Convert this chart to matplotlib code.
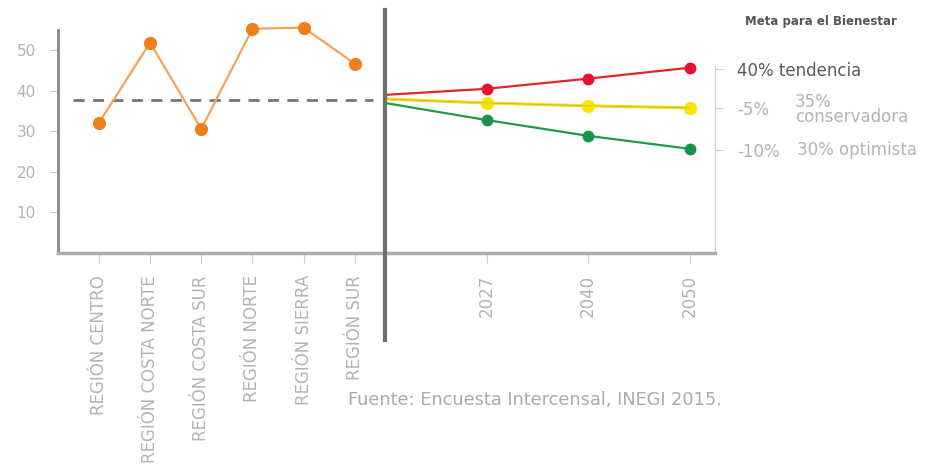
import matplotlib.pyplot as plt
import matplotlib.transforms as mtransforms

# datos
regiones = ["REGIÓN CENTRO", "REGIÓN COSTA NORTE", "REGIÓN COSTA SUR",
            "REGIÓN NORTE", "REGIÓN SIERRA", "REGIÓN SUR"]
pobreza = [32.1, 51.9, 30.6, 55.3, 55.6, 46.7]
promedio = 37.8

anios = ["", "2027", "2040", "2050"]
tendencia = [39.0, 40.5, 43.0, 45.7]
conservadora = [38.0, 37.0, 36.3, 35.8]
optimista = [37.0, 32.8, 28.9, 25.7]

gris = "#b3b3b3"

fig = plt.figure(figsize=(9.34, 4.74), dpi=100)
ax = fig.add_axes([0.0621, 0.4662, 0.350, 0.4705])
ax2 = fig.add_axes([0.4122, 0.4662, 0.3533, 0.4705])

# --- izquierda: regiones ---
x = range(len(regiones))
ax.plot(x, pobreza, color="#f4a35a", lw=1.6, zorder=3, clip_on=False)
ax.plot(x, pobreza, "o", color="#ee801c", ms=8.5, zorder=4, clip_on=False)
ax.hlines(promedio, -0.51, 5.35, colors="#777777", linestyles=(0, (4, 3)), lw=2)

ax.set_xlim(-0.80, 5.59)
ax.set_ylim(0, 55)
ax.set_yticks([10, 20, 30, 40, 50])
ax.set_xticks(list(x))
ax.set_xticklabels(regiones, rotation=90, va="top")
ax.tick_params(axis="y", colors="#cccccc", labelcolor=gris, labelsize=11,
               length=6, pad=10)
ax.tick_params(axis="x", colors="#cccccc", labelcolor=gris, labelsize=12,
               length=7, pad=9)
for s in ["top", "right"]:
    ax.spines[s].set_visible(False)
ax.spines["left"].set_color("#888888")
ax.spines["left"].set_linewidth(2)
ax.spines["bottom"].set_color("#acacac")
ax.spines["bottom"].set_linewidth(2.5)

# --- derecha: escenarios ---
xp = range(len(anios))
ax2.plot(xp, tendencia, "-o", color="#e3262e", mfc="#e8102a", mec="#e8102a",
         lw=1.6, ms=7.5, markevery=[1, 2, 3], clip_on=False)
ax2.plot(xp, conservadora, "-o", color="#f2df12", mfc="#fce300", mec="#fce300",
         lw=2.2, ms=8.5, markevery=[1, 2, 3], clip_on=False)
ax2.plot(xp, conservadora, "-", color="#9a9a40", lw=0.5, alpha=0.6)
ax2.plot(xp, optimista, "-o", color="#1f9a4b", mfc="#169447", mec="#169447",
         lw=1.6, ms=7.5, markevery=[1, 2, 3], clip_on=False)

ax2.set_xlim(0, 3.25)
ax2.set_ylim(0, 55)
ax2.set_xticks([1, 2, 3])
ax2.set_xticklabels(anios[1:], rotation=90, va="top")
ax2.tick_params(axis="x", colors="#cccccc", labelcolor=gris, labelsize=12,
                length=7, pad=9)
ax2.yaxis.tick_right()
ax2.set_yticks([tendencia[-1] - 0.4, conservadora[-1], optimista[-1] - 0.2])
ax2.set_yticklabels(["40% tendencia", "-5%", "-10%"])
ax2.tick_params(axis="y", colors="#cccccc", labelcolor=gris, labelsize=12,
                length=6, pad=10)
lbls = ax2.get_yticklabels()
lbls[0].set_color("#5a5a5a")
for s in ["top", "left"]:
    ax2.spines[s].set_visible(False)
ax2.spines["right"].set_color("#cccccc")
ax2.spines["right"].set_bounds(0, tendencia[-1] + 0.5)
ax2.spines["bottom"].set_color("#acacac")
ax2.spines["bottom"].set_linewidth(2.5)

trans = mtransforms.blended_transform_factory(ax2.transAxes, ax2.transData)
ax2.text(1.242, conservadora[-1] - 0.4, "35%\nconservadora", transform=trans,
         color=gris, fontsize=12, va="center", linespacing=0.85)
ax2.text(1.248, optimista[-1] - 0.2, "30% optimista", transform=trans,
         color=gris, fontsize=12, va="center")

# linea divisoria
ax2.axvline(0, ymin=-0.39, ymax=1.09, color="#6e6e6e", lw=3, clip_on=False,
            zorder=5)

fig.text(745 / 934, 1 - 22 / 474, "Meta para el Bienestar", fontsize=8.5,
         fontweight="bold", color="#555555", va="center")
fig.text(348 / 934, 1 - 400 / 474, "Fuente: Encuesta Intercensal, INEGI 2015.",
         fontsize=12.8, color="#aaaaaa", va="center")

fig.savefig("out.png", dpi=100)
